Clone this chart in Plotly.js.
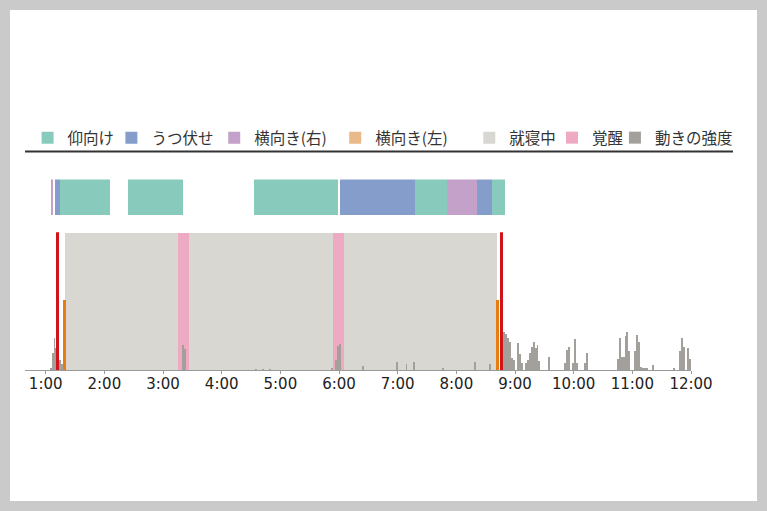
<!DOCTYPE html>
<html>
<head>
<meta charset="utf-8">
<script src="https://cdn.plot.ly/plotly-3.0.1.min.js"></script>
<style>
    html, body { margin: 0; padding: 0; background: #cacaca; }
    #chart { position: absolute; left: 10px; top: 10px; width: 747px; height: 491px; background: #fff; }
</style>
</head>
<body>
<div id="chart"></div>
<script>
// posture segments (start, end, posture)
const postureNames = ["仰向け", "うつ伏せ", "横向き(右)", "横向き(左)"];
const postureColors = ["#88cbbd", "#849dcb", "#c4a1c8", "#e9b98b"];
const segStart = ["1:05", "1:09", "1:15", "2:24", "4:33", "6:01", "7:18", "7:50", "8:21", "8:36"];
const segEnd   = ["1:07", "1:15", "2:06", "3:20", "5:59", "7:18", "7:50", "8:21", "8:36", "8:50"];
const segPosture = ["横向き(右)", "うつ伏せ", "仰向け", "仰向け", "仰向け", "うつ伏せ", "仰向け", "横向き(右)", "うつ伏せ", "仰向け"];

// sleep / awake periods
const sleepStart = ["1:20"];
const sleepEnd = ["8:42"];
const awakeStart = ["3:15", "5:54"];
const awakeEnd = ["3:27", "6:05"];

// in bed / out of bed (red), sleep onset / wake (orange)
const bedTimes = ["1:12", "8:46"];
const onsetTimes = ["1:19", "8:42"];
const onsetLevel = [50.7, 50.7];

// movement intensity
const moveTimes = [
    "1:05", "1:07", "1:09", "1:11", "1:13", "1:15", "1:17",
    "3:20", "3:22",
    "4:35", "4:42", "4:49",
    "5:53", "5:57", "5:59", "6:01",
    "6:25", "6:59", "7:09", "7:17", "7:46", "8:19", "8:34",
    "8:49", "8:51", "8:53", "8:55", "8:57", "8:59", "9:03", "9:05", "9:07",
    "9:11", "9:13", "9:15", "9:17", "9:19", "9:21", "9:23", "9:25", "9:35",
    "9:51", "9:53", "9:55", "9:59", "10:01", "10:03", "10:12", "10:14",
    "10:45", "10:47", "10:49", "10:51", "10:53", "10:55", "10:57",
    "11:03", "11:05", "11:07", "11:09", "11:11", "11:13", "11:15", "11:21",
    "11:43", "11:49", "11:51", "11:53", "11:57", "11:59"
];
const moveValues = [
    1.2, 12, 23, 16, 9, 7, 4.3,
    18, 15,
    1, 1, 1,
    1.2, 7, 17.5, 19,
    3, 6, 4.3, 6, 1.2, 6, 4.5,
    27.5, 26, 23, 20, 8.7, 7.2, 19.3, 11.4, 4.8,
    4.8, 7.2, 12, 16.7, 20, 15.7, 18, 6.5, 9.6,
    4.8, 14.5, 17, 4.8, 22.5, 4.8, 4.8, 12,
    8, 23.4, 9.6, 9.6, 24.8, 27.7, 13.8,
    13.8, 25.4, 20, 2.2, 1.7, 1.7, 1.7, 3.6,
    1.2, 13.8, 23, 17, 15.7, 8
];

const tickHours = [1, 2, 3, 4, 5, 6, 7, 8, 9, 10, 11, 12];

// one legend box per entry so the spacing follows the original
const legendX = [0.0039, 0.1297, 0.2841, 0.4658, 0.6671, 0.7913, 0.8858];

function toHours(s){
    const p = s.split(":");
    return parseInt(p[0]) + parseInt(p[1]) / 60;
}

function legendId(i){
    return i == 0 ? "legend" : "legend" + (i + 1);
}

const traces = [];

// posture row
postureNames.forEach((name, i)=>{
    const idx = [];
    segPosture.forEach((p, j)=>{ if(p == name) idx.push(j) });
    traces.push({
        type: "bar",
        orientation: "h",
        name: name,
        legend: legendId(i),
        yaxis: "y2",
        y: idx.length ? idx.map(()=>0) : [null],
        base: idx.length ? idx.map((j)=>toHours(segStart[j])) : [null],
        x: idx.length ? idx.map((j)=>toHours(segEnd[j]) - toHours(segStart[j])) : [null],
        width: 1,
        marker: {color: postureColors[i], line: {width: 0}},
        hoverinfo: "skip"
    });
});

// sleep period
traces.push({
    type: "bar",
    name: "就寝中",
    legend: legendId(4),
    x: sleepStart.map((s, i)=>(toHours(s) + toHours(sleepEnd[i])) / 2),
    y: sleepStart.map(()=>99.3),
    width: sleepStart.map((s, i)=>toHours(sleepEnd[i]) - toHours(s)),
    marker: {color: "#d9d7d2", line: {width: 0}},
    hoverinfo: "skip"
});

// awake
traces.push({
    type: "bar",
    name: "覚醒",
    legend: legendId(5),
    x: awakeStart.map((s, i)=>(toHours(s) + toHours(awakeEnd[i])) / 2),
    y: awakeStart.map(()=>99.3),
    width: awakeStart.map((s, i)=>toHours(awakeEnd[i]) - toHours(s)),
    marker: {color: "#eea9c3", line: {width: 0}},
    hoverinfo: "skip"
});

// movement
traces.push({
    type: "bar",
    name: "動きの強度",
    legend: legendId(6),
    x: moveTimes.map(toHours),
    y: moveValues,
    width: 2 / 60,
    marker: {color: "#a39f9a", line: {width: 0}},
    hoverinfo: "skip"
});

traces.push({
    type: "bar",
    showlegend: false,
    x: onsetTimes.map(toHours),
    y: onsetLevel,
    width: 2.7 / 60,
    marker: {color: "#e77d10", line: {width: 0}},
    hoverinfo: "skip"
});

traces.push({
    type: "bar",
    showlegend: false,
    x: bedTimes.map(toHours),
    y: bedTimes.map(()=>100),
    width: 3.1 / 60,
    marker: {color: "#d0141c", line: {width: 0}},
    hoverinfo: "skip"
});

const legendFont = {family: "Noto Sans CJK JP, sans-serif", size: 15.5, color: "#333"};

const layout = {
    width: 747,
    height: 491,
    margin: {l: 15, r: 66, t: 90, b: 131},
    paper_bgcolor: "#fff",
    plot_bgcolor: "rgba(0,0,0,0)",
    barmode: "overlay",
    bargap: 0,
    hovermode: false,
    xaxis: {
        range: [0.647, 12],
        tickvals: tickHours,
        ticktext: tickHours.map((h)=>h + ":00"),
        ticks: "outside",
        ticklen: 3,
        tickcolor: "#999",
        ticklabelstandoff: -3,
        showline: true,
        linecolor: "#9a9a9a",
        linewidth: 1,
        showgrid: false,
        zeroline: false,
        fixedrange: true,
        tickfont: {family: "DejaVu Sans, sans-serif", size: 15, color: "#222"}
    },
    yaxis: {
        domain: [0, 0.51],
        range: [0, 100],
        visible: false,
        fixedrange: true
    },
    yaxis2: {
        domain: [0.574, 0.706],
        range: [-0.5, 0.5],
        anchor: "x",
        visible: false,
        fixedrange: true
    },
    shapes: [
        {
            type: "line",
            xref: "paper", yref: "paper",
            x0: 0, x1: 1.063, y0: 0.809, y1: 0.809,
            line: {color: "#333", width: 2}
        }
    ]
};

legendX.forEach((x, i)=>{
    layout[legendId(i)] = {
        orientation: "h",
        xref: "paper", yref: "paper",
        x: x, y: 0.859,
        xanchor: "left", yanchor: "middle",
        font: legendFont,
        bgcolor: "rgba(0,0,0,0)",
        itemclick: false, itemdoubleclick: false
    };
});

Plotly.newPlot("chart", traces, layout, {displayModeBar: false, staticPlot: true});
</script>
</body>
</html>
